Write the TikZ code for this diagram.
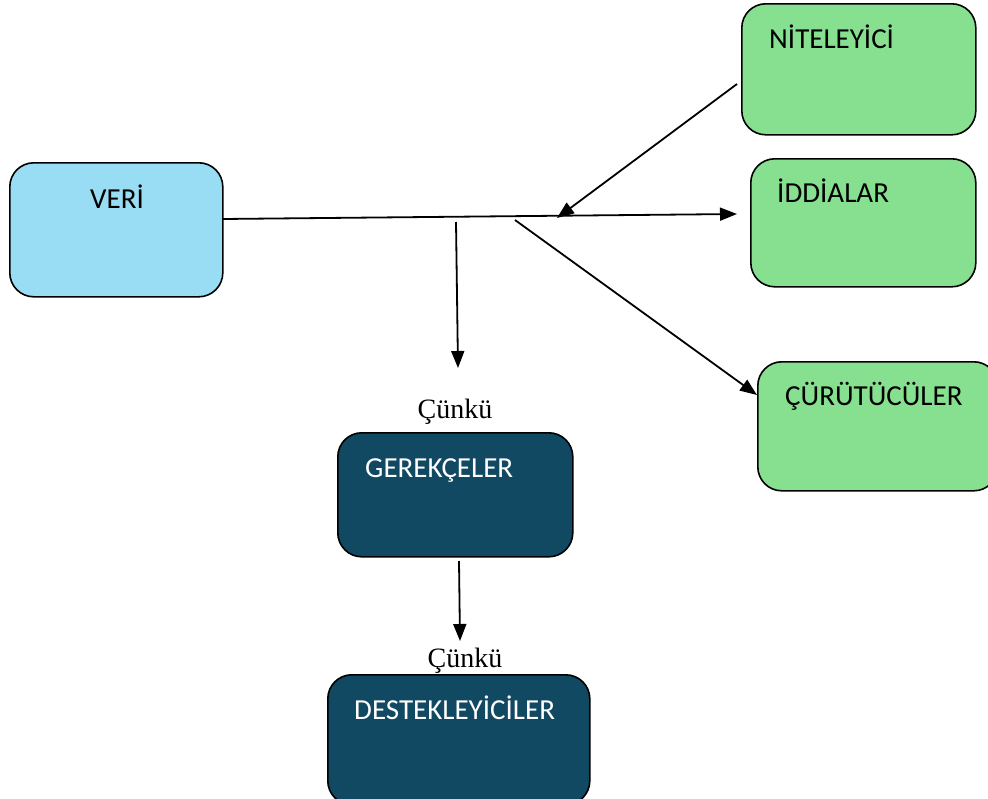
\documentclass[tikz,border=0pt]{standalone}
\usepackage{fontspec}
\setmainfont{Carlito}
\newfontfamily\serifcnk{Liberation Serif}
\usetikzlibrary{arrows.meta}
\definecolor{lblue}{RGB}{153,221,245}
\definecolor{lgreen}{RGB}{134,224,144}
\definecolor{dnavy}{RGB}{17,72,98}
\tikzset{
  box/.style={draw=black, line width=1.6pt, rounded corners=24pt, anchor=north west, inner sep=0pt},
  boxtxt/.style={anchor=base west, inner sep=0pt, font=\fontsize{29}{33}\selectfont},
  cnk/.style={anchor=base, inner sep=0pt, font=\serifcnk\fontsize{28}{32}\selectfont},
  conn/.style={line width=1.8pt, -{Triangle[length=17pt,width=13pt]}}
}
\begin{document}
\begin{tikzpicture}[x=1pt,y=-1pt]
\useasboundingbox (0,0) rectangle (988,798);
% boxes
\node[box, fill=lblue, minimum width=213pt, minimum height=134pt] (veri) at (9,162) {};
\node[box, fill=lgreen, minimum width=234pt, minimum height=131pt] (nit) at (741,3) {};
\node[box, fill=lgreen, minimum width=225pt, minimum height=128pt] (idd) at (750,158) {};
\node[box, fill=lgreen, minimum width=240pt, minimum height=129pt] (cur) at (757,361) {};
\node[box, fill=dnavy, minimum width=235pt, minimum height=124pt] (ger) at (337,432) {};
\node[box, fill=dnavy, minimum width=262pt, minimum height=130pt] (des) at (327,674) {};
% texts
\node[boxtxt] (veriT) at (90,208) {VERİ};
\node[boxtxt] (nitT) at (769,48) {NİTELEYİCİ};
\node[boxtxt] (iddT) at (777,202) {İDDİALAR};
\node[boxtxt] (curT) at (785,405) {ÇÜRÜTÜCÜLER};
\node[boxtxt, text=white] (gerT) at (365,477) {GEREKÇELER};
\node[boxtxt, text=white] (desT) at (354,719) {DESTEKLEYİCİLER};
\node[cnk] (c1) at (455,418) {Çünkü};
\node[cnk] (c2) at (465,667) {Çünkü};
% connector points
\coordinate (mS) at (222,219);
\coordinate (mE) at (737,214);
\coordinate (nS) at (737,84);
\coordinate (nE) at (557,218);
\coordinate (vS) at (456,222);
\coordinate (vE) at (458,368);
\coordinate (dS) at (515,220);
\coordinate (dE) at (757,395);
\coordinate (gS) at (459,561);
\coordinate (gE) at (460,641);
% connectors
\draw[conn] (mS) -- (mE);
\draw[conn] (nS) -- (nE);
\draw[conn] (vS) -- (vE);
\draw[conn] (dS) -- (dE);
\draw[conn] (gS) -- (gE);
\end{tikzpicture}
\end{document}
